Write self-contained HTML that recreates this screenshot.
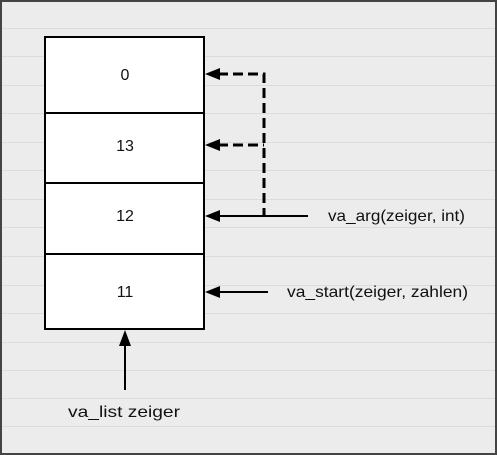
<!DOCTYPE html>
<html><head><style>
html,body{margin:0;padding:0;}
body{width:497px;height:455px;overflow:hidden;background:#ececec;}
svg{display:block}
text{font-family:"Liberation Sans",sans-serif;font-size:16px;fill:#111;}
</style></head><body>
<svg width="497" height="455" viewBox="0 0 497 455">
<rect x="0" y="0" width="497" height="455" fill="#ececec"/>
<g stroke="#dcdcdc" stroke-width="1">
<line x1="2" y1="28.5" x2="495" y2="28.5"/>
<line x1="2" y1="56.5" x2="495" y2="56.5"/>
<line x1="2" y1="85.5" x2="495" y2="85.5"/>
<line x1="2" y1="113.5" x2="495" y2="113.5"/>
<line x1="2" y1="142.5" x2="495" y2="142.5"/>
<line x1="2" y1="170.5" x2="495" y2="170.5"/>
<line x1="2" y1="199.5" x2="495" y2="199.5"/>
<line x1="2" y1="227.5" x2="495" y2="227.5"/>
<line x1="2" y1="256.5" x2="495" y2="256.5"/>
<line x1="2" y1="285.5" x2="495" y2="285.5"/>
<line x1="2" y1="313.5" x2="495" y2="313.5"/>
<line x1="2" y1="342.5" x2="495" y2="342.5"/>
<line x1="2" y1="370.5" x2="495" y2="370.5"/>
<line x1="2" y1="398.5" x2="495" y2="398.5"/>
<line x1="2" y1="426.5" x2="495" y2="426.5"/>
</g>
<rect x="1" y="1" width="495" height="453" fill="none" stroke="#444" stroke-width="2"/>
<g fill="#fff" stroke="#000" stroke-width="2">
<rect x="45" y="37" width="159" height="76"/>
<rect x="45" y="113" width="159" height="70"/>
<rect x="45" y="183" width="159" height="71"/>
<rect x="45" y="254" width="159" height="75"/>
</g>
<g text-anchor="middle">
<text x="125" y="80">0</text>
<text x="125" y="151">13</text>
<text x="125" y="221">12</text>
<text x="125" y="297">11</text>
</g>
<text x="68" y="417" textLength="112" lengthAdjust="spacingAndGlyphs">va_list zeiger</text>
<text x="328" y="221" textLength="137" lengthAdjust="spacingAndGlyphs">va_arg(zeiger, int)</text>
<text x="287" y="297" textLength="181" lengthAdjust="spacingAndGlyphs">va_start(zeiger, zahlen)</text>
<g stroke="#000" stroke-width="3" fill="none" stroke-dasharray="10,5">
<polyline points="218,74 264,74 264,215"/>
<line x1="218" y1="145" x2="264" y2="145"/>
</g>
<g stroke="#000" stroke-width="2" fill="none">
<line x1="216" y1="216" x2="308" y2="216"/>
<line x1="216" y1="292" x2="268" y2="292"/>
<line x1="125" y1="344" x2="125" y2="390"/>
</g>
<g fill="#000">
<polygon points="205,74 220,68 220,80"/>
<polygon points="205,145 220,139 220,151"/>
<polygon points="205,216 220,210 220,222"/>
<polygon points="205,292 220,286 220,298"/>
<polygon points="125,330 119,346 131,346"/>
</g>
</svg>
</body></html>
